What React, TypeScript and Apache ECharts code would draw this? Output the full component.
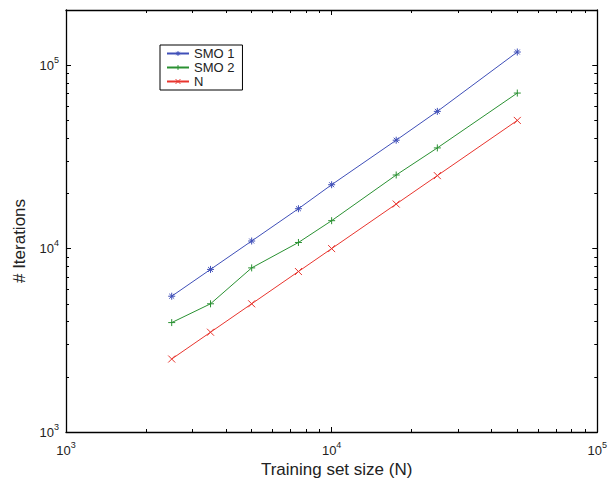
import React, { useEffect, useRef } from "react";
import * as echarts from "echarts";

const trainingSizes = [2500, 3500, 5000, 7500, 10000, 17500, 25000, 50000];
const smo1 = [5500, 7700, 11000, 16500, 22300, 39000, 56000, 118000];
const smo2 = [3950, 5000, 7850, 10800, 14200, 25200, 35400, 70500];
const nLine = [2500, 3500, 5000, 7500, 10000, 17500, 25000, 50000];

const FONT = "'Liberation Sans', Arial, Helvetica, sans-serif";
const BLUE = "#3f4fb8";
const GREEN = "#2a9132";
const RED = "#e8352e";

const asterisk = "path://M5 0 L5 10 M0 5 L10 5 M1.5 1.5 L8.5 8.5 M8.5 1.5 L1.5 8.5";
const plus = "path://M5 0 L5 10 M0 5 L10 5";
const cross = "path://M0 0 L10 10 M10 0 L0 10";

const supFmt = (v: number) => `{b|10}{s|${Math.round(Math.log10(v))}}`;
const rich = {
  b: { fontSize: 13, lineHeight: 20, color: "#222", fontFamily: FONT },
  s: { fontSize: 9, lineHeight: 6, verticalAlign: "top", color: "#222", fontFamily: FONT },
};

export default function App() {
  const ref = useRef<HTMLDivElement>(null);
  useEffect(() => {
    if (!ref.current) return;
    const chart = echarts.init(ref.current, null, { renderer: "svg" });
    const mk = (name: string, data: number[], color: string, symbol: string) => ({
      name,
      type: "line",
      data: trainingSizes.map((x, i) => [x, data[i]]),
      symbol,
      symbolSize: 7,
      lineStyle: { color, width: 1 },
      itemStyle: { color, borderColor: color, borderWidth: 1 },
      emphasis: { disabled: true },
    });
    const axisLine = { show: true, lineStyle: { color: "#000", width: 1.3 } };
    const tick = { inside: true, length: 5, lineStyle: { color: "#000" } };
    const minor = { show: true, splitNumber: 9, length: 3, lineStyle: { color: "#000" } };
    chart.setOption({
      animation: false,
      backgroundColor: "#fff",
      textStyle: { fontFamily: FONT },
      grid: { left: 66, right: 8, top: 10, bottom: 52 },
      legend: {
        left: 160,
        top: 45,
        orient: "vertical",
        borderColor: "#000",
        borderWidth: 1,
        backgroundColor: "#fff",
        padding: [2, 8, 2, 6],
        itemGap: 1,
        itemWidth: 22,
        itemHeight: 6,
        itemStyle: { borderWidth: 1 },
        textStyle: { fontSize: 13, color: "#222", fontFamily: FONT },
        data: ["SMO 1", "SMO 2", "N"],
      },
      xAxis: [
        {
          type: "log",
          logBase: 10,
          min: 1000,
          max: 100000,
          position: "bottom",
          name: "Training set size (N)",
          nameLocation: "middle",
          nameGap: 29,
          nameTextStyle: { fontSize: 17, color: "#222", fontFamily: FONT, padding: [0, 0, 0, 10] },
          axisLine,
          axisTick: tick,
          minorTick: minor,
          splitLine: { show: false },
          axisLabel: { formatter: supFmt, rich, margin: 8 },
        },
        {
          type: "log",
          logBase: 10,
          min: 1000,
          max: 100000,
          position: "top",
          axisLine,
          axisTick: tick,
          minorTick: minor,
          splitLine: { show: false },
          axisLabel: { show: false },
        },
      ],
      yAxis: [
        {
          type: "log",
          logBase: 10,
          min: 1000,
          max: 200000,
          position: "left",
          name: "# Iterations",
          nameLocation: "middle",
          nameGap: 38,
          nameTextStyle: { fontSize: 17, color: "#222", fontFamily: FONT, padding: [0, 40, 0, 0] },
          axisLine,
          axisTick: tick,
          minorTick: minor,
          splitLine: { show: false },
          axisLabel: { formatter: supFmt, rich, margin: 7, showMaxLabel: false },
        },
        {
          type: "log",
          logBase: 10,
          min: 1000,
          max: 200000,
          position: "right",
          axisLine,
          axisTick: tick,
          minorTick: minor,
          splitLine: { show: false },
          axisLabel: { show: false },
        },
      ],
      series: [
        mk("SMO 1", smo1, BLUE, asterisk),
        mk("SMO 2", smo2, GREEN, plus),
        mk("N", nLine, RED, cross),
      ],
    });
    return () => chart.dispose();
  }, []);
  return <div ref={ref} style={{ width: 610, height: 484, position: "fixed", left: 0, top: 0 }} />;
}
